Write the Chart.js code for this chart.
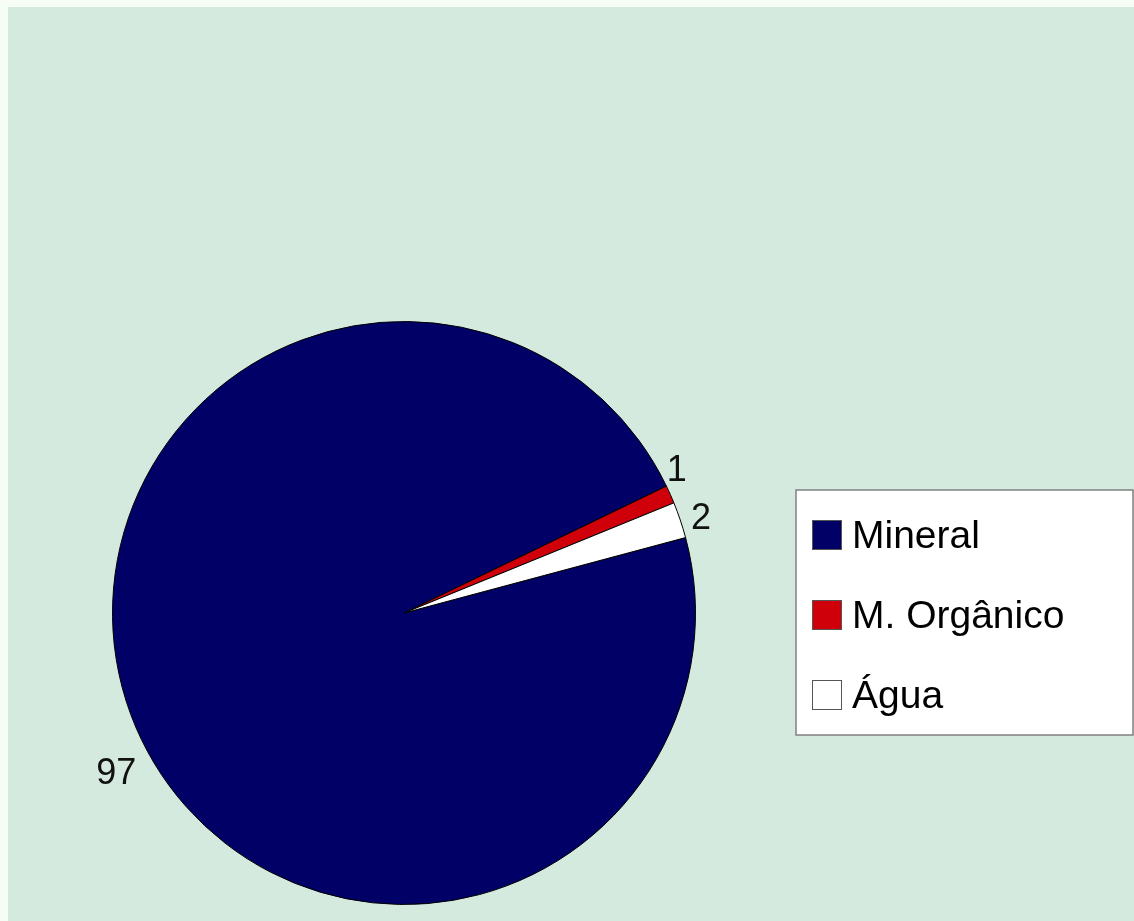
<!DOCTYPE html>
<html>
<head>
<meta charset="utf-8">
<script src="https://cdn.jsdelivr.net/npm/chart.js@4/dist/chart.umd.min.js"></script>
<style>
  html, body { margin: 0; padding: 0; background: #f5fdf5; }
  #wrap { position: absolute; left: 8px; top: 7px; width: 1126px; height: 914px; background: #d5eadf; }
</style>
</head>
<body>
<div id="wrap"><canvas id="pie"></canvas></div>
<script>
// --- dados ---
const labels = ['Mineral', 'M. Orgânico', 'Água'];
const values = [97, 1, 2];
const colors = ['#000066', '#d0000a', '#ffffff'];

// ajuste dos rótulos (graus, pixels)
const labelShift = [-8.8, -3.5, 1];
const labelGap = [38, 16, 20];

const FONT = '"Liberation Sans", Arial, sans-serif';

// --- rótulos de dados ---
const dataLabels = {
    id: 'dataLabels',
    afterDatasetsDraw(chart) {
        const ctx = chart.ctx;
        const meta = chart.getDatasetMeta(0);
        ctx.save();
        ctx.font = '36px ' + FONT;
        ctx.fillStyle = '#111';
        ctx.textAlign = 'center';
        ctx.textBaseline = 'middle';
        meta.data.forEach((arc, i) => {
            const p = arc.getProps(['x', 'y', 'startAngle', 'endAngle', 'outerRadius'], true);
            const mid = (p.startAngle + p.endAngle) / 2 + labelShift[i] * Math.PI / 180;
            const r = p.outerRadius + labelGap[i];
            ctx.fillText(String(values[i]), p.x + Math.cos(mid) * r, p.y + Math.sin(mid) * r);
        });
        ctx.restore();
    }
};

// --- legenda em caixa ---
const boxLegend = {
    id: 'boxLegend',
    afterDraw(chart) {
        const ctx = chart.ctx;
        const x = 788, y = 483, w = 337, h = 245;
        ctx.save();
        ctx.fillStyle = '#ffffff';
        ctx.fillRect(x, y, w, h);
        ctx.strokeStyle = '#808080';
        ctx.lineWidth = 1.5;
        ctx.strokeRect(x, y, w, h);
        ctx.font = '39px ' + FONT;
        ctx.textBaseline = 'middle';
        labels.forEach((lab, i) => {
            const cy = y + 45 + i * 80;
            ctx.fillStyle = colors[i];
            ctx.fillRect(x + 16, cy - 15, 30, 30);
            ctx.strokeStyle = '#555';
            ctx.lineWidth = 1;
            ctx.strokeRect(x + 16.5, cy - 14.5, 29, 29);
            ctx.fillStyle = '#000';
            ctx.fillText(lab, x + 56, cy + 2);
        });
        ctx.restore();
    }
};

new Chart(document.getElementById('pie'), {
    type: 'pie',
    data: {
        labels: labels,
        datasets: [{
            data: values,
            backgroundColor: colors,
            borderColor: '#000000',
            borderWidth: 1,
            hoverOffset: 0
        }]
    },
    options: {
        responsive: true,
        maintainAspectRatio: false,
        animation: false,
        rotation: 75,
        layout: { padding: { left: 104, right: 438, top: 314, bottom: 16 } },
        plugins: {
            legend: { display: false },
            tooltip: { enabled: false }
        }
    },
    plugins: [dataLabels, boxLegend]
});
</script>
</body>
</html>
